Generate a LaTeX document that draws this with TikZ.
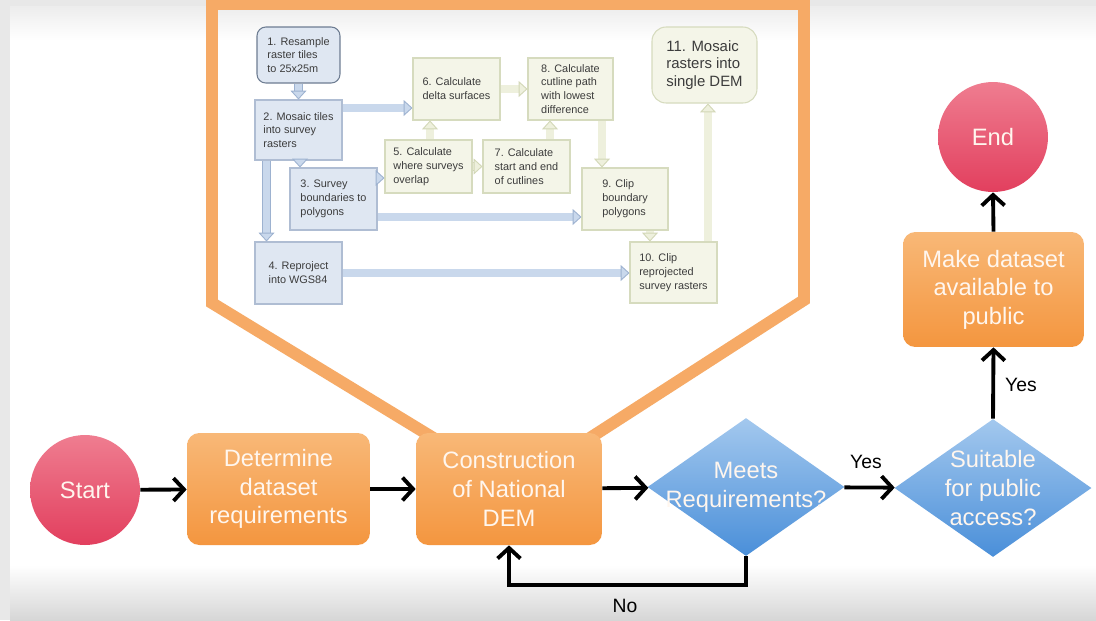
\documentclass[tikz,border=0pt]{standalone}
\usepackage{fontspec}
\setmainfont{Liberation Sans}
\setsansfont{Liberation Sans}
\usetikzlibrary{shapes.geometric,arrows.meta,calc}

\definecolor{pagegray}{HTML}{E8E8E8}
\definecolor{framecol}{HTML}{F6AA66}
\definecolor{redtop}{HTML}{EF7D90}
\definecolor{redbot}{HTML}{E23F5E}
\definecolor{orgtop}{HTML}{F8B877}
\definecolor{orgbot}{HTML}{F4963F}
\definecolor{bluetop}{HTML}{A3C8EE}
\definecolor{bluebot}{HTML}{4A8FD9}
\definecolor{nodetext}{HTML}{FFF6EE}
\definecolor{inktext}{HTML}{3C3C3C}
\definecolor{bfill}{HTML}{DFE7F2}
\definecolor{bline}{HTML}{AFBDD3}
\definecolor{bdark}{HTML}{6E7D92}
\definecolor{cfill}{HTML}{F4F5E8}
\definecolor{cline}{HTML}{D6DBBE}
\definecolor{barrowfill}{HTML}{C9D8EC}
\definecolor{barrowline}{HTML}{9DB2D0}
\definecolor{carrowfill}{HTML}{EEF0DD}
\definecolor{carrowline}{HTML}{D2D7B6}

\tikzset{
  flow/.style={line width=2.2pt, -{Straight Barb[length=6pt,width=13pt]}},
  roundnode/.style={circle, minimum size=2.2cm, inner sep=0pt, top color=redtop, bottom color=redbot,
    text=nodetext, font=\fontsize{13.5}{16}\selectfont},
  procbox/.style={rectangle, rounded corners=7pt, inner sep=2pt, top color=orgtop, bottom color=orgbot,
    text=nodetext, align=center, font=\fontsize{13.5}{16.3}\selectfont},
  decision/.style={diamond, inner sep=0pt, minimum width=3.94cm, minimum height=2.76cm,
    top color=bluetop, bottom color=bluebot},
  dtext/.style={text=nodetext, align=center, font=\fontsize{13.5}{16.3}\selectfont},
  answer/.style={text=black, font=\fontsize{11}{13}\selectfont},
  frameline/.style={draw=framecol, line width=6.8pt, line join=miter},
  ibox/.style={rectangle, draw, line width=0.6pt, align=left, inner sep=2pt, text=inktext,
    font=\fontsize{6.2}{7.9}\selectfont},
  bluebox/.style={ibox, fill=bfill, draw=bline},
  creambox/.style={ibox, fill=cfill, draw=cline},
  bluearrow/.style={line width=4pt, draw=barrowfill,
    -{Triangle[length=5pt,width=9pt,fill=barrowfill,color=barrowline,line width=0.5pt]},
    preaction={draw=barrowline, line width=5pt, arrows=-, shorten >=4.8pt}},
  creamarrow/.style={line width=4pt, draw=carrowfill,
    -{Triangle[length=5pt,width=9pt,fill=carrowfill,color=carrowline,line width=0.5pt]},
    preaction={draw=carrowline, line width=5pt, arrows=-, shorten >=4.8pt}},
}

\begin{document}
\begin{tikzpicture}[x=0.02cm, y=-0.02cm]
\useasboundingbox (0,0) rectangle (1096,620);
\begin{scope}
\clip (0,0) rectangle (1096,620);

% page background with soft grey edges
\fill[pagegray] (0,0) rectangle (1096,620);
\fill[white] (10,6) rectangle (1096,566);
\shade[top color=pagegray!80, bottom color=white] (10,6) rectangle (1096,40);
\shade[top color=white, bottom color=black!16] (10,565) rectangle (1096,620);

% callout frame opening from the construction step
\fill[white] (445,445) -- (212,303) -- (212,4) -- (804,4) -- (804,300) -- (579,445) -- cycle;
\shade[top color=black!7, bottom color=white] (218,8) rectangle (798,40);
\draw[frameline] (445,445) -- (212,303) -- (212,4) -- (804,4) -- (804,300) -- (579,445);

% detailed workflow of the construction step
\node[bluebox, rounded corners=5pt, draw=bdark, minimum width=1.66cm, minimum height=1.12cm] (n1) at (298.5,55) {1. Resample\\raster tiles\\to 25x25m};
\node[bluebox, minimum width=1.74cm, minimum height=1.2cm] (n2) at (298.5,130) {2. Mosaic tiles\\into survey\\rasters};
\node[bluebox, minimum width=1.74cm, minimum height=1.24cm] (n3) at (333.5,199) {3. Survey\\boundaries to\\polygons};
\node[bluebox, minimum width=1.74cm, minimum height=1.24cm] (n4) at (298.5,273) {4. Reproject\\into WGS84};
\node[creambox, minimum width=1.74cm, minimum height=1.06cm] (n5) at (428.5,166.5) {5. Calculate\\where surveys\\overlap};
\node[creambox, minimum width=1.74cm, minimum height=1.24cm] (n6) at (456.5,89) {6. Calculate\\delta surfaces};
\node[creambox, minimum width=1.74cm, minimum height=1.06cm] (n7) at (526.5,166.5) {7. Calculate\\start and end\\of cutlines};
\node[creambox, minimum width=1.7cm, minimum height=1.24cm] (n8) at (570.5,89) {8. Calculate\\cutline path\\with lowest\\difference};
\node[creambox, minimum width=1.72cm, minimum height=1.24cm] (n9) at (625,199) {9. Clip\\boundary\\polygons};
\node[creambox, minimum width=1.74cm, minimum height=1.22cm] (n10) at (673.5,272.5) {10. Clip\\reprojected\\survey rasters};
\node[creambox, rounded corners=8pt, minimum width=2.1cm, minimum height=1.52cm,
      font=\fontsize{8.5}{10}\selectfont] (n11) at (704.5,65) {11. Mosaic\\rasters into\\single DEM};

\draw[bluearrow] (n1.south) -- (n2.north);
\draw[bluearrow] ($(n2.east)+(0,-22)$) coordinate (p26) -- (p26 -| n6.west);
\draw[bluearrow] ($(n2.south)+(1.5,0)$) coordinate (p23) -- (p23 |- n3.north);
\draw[bluearrow] ($(n2.south)+(-32,0)$) coordinate (p24) -- (p24 |- n4.north);
\draw[bluearrow] ($(n3.east)+(0,-21)$) coordinate (p35) -- (p35 -| n5.west);
\draw[bluearrow] ($(n3.east)+(0,18)$) coordinate (p39) -- (p39 -| n9.west);
\draw[bluearrow] (n4.east) -- (n4.east -| n10.west);
\draw[creamarrow] ($(n5.north)+(1.5,0)$) coordinate (p56) -- (p56 |- n6.south);
\draw[creamarrow] (n5.east) -- (n7.west);
\draw[creamarrow] (n6.east) -- (n8.west);
\draw[creamarrow] ($(n7.north)+(23.5,0)$) coordinate (p78) -- (p78 |- n8.south);
\draw[creamarrow] ($(n8.south)+(31.5,0)$) coordinate (p89) -- (p89 |- n9.north);
\draw[creamarrow] ($(n9.south)+(25,0)$) coordinate (p910) -- (p910 |- n10.north);
\draw[creamarrow] ($(n10.north)+(34.5,0)$) coordinate (p1011) -- (p1011 |- n11.south);

% main process
\node[roundnode] (start) at (85,490) {Start};
\node[procbox, minimum width=3.66cm, minimum height=2.24cm] (det) at (278.5,489) {Determine\\dataset\\requirements};
\node[procbox, minimum width=3.72cm, minimum height=2.24cm] (cons) at (509,489) {Construction\\of National\\DEM};
\node[decision, label={[dtext]center:{Meets\\Requirements?}}] (meets) at (746,487) {};
\node[decision, label={[dtext]center:{Suitable\\for public\\access?}}] (suit) at (993,488) {};
\node[procbox, minimum width=3.62cm, minimum height=2.3cm] (make) at (993.5,289.5) {Make dataset\\available to\\public};
\node[roundnode] (end) at (993,137) {End};

\draw[flow] (start) -- (det);
\draw[flow] (det) -- (cons);
\draw[flow] (cons) -- (meets);
\draw[flow] (meets) -- (suit);
\draw[flow] (meets.south) -- ++(0,29) -| (cons.south);
\draw[flow] (suit.north) -- (make.south);
\draw[flow] (make.north) -- (end.south);

\node[answer] (yes1) at (866,462) {Yes};
\node[answer] (yes2) at (1021,385) {Yes};
\node[answer] (no) at (625,606) {No};
\end{scope}
\end{tikzpicture}
\end{document}
